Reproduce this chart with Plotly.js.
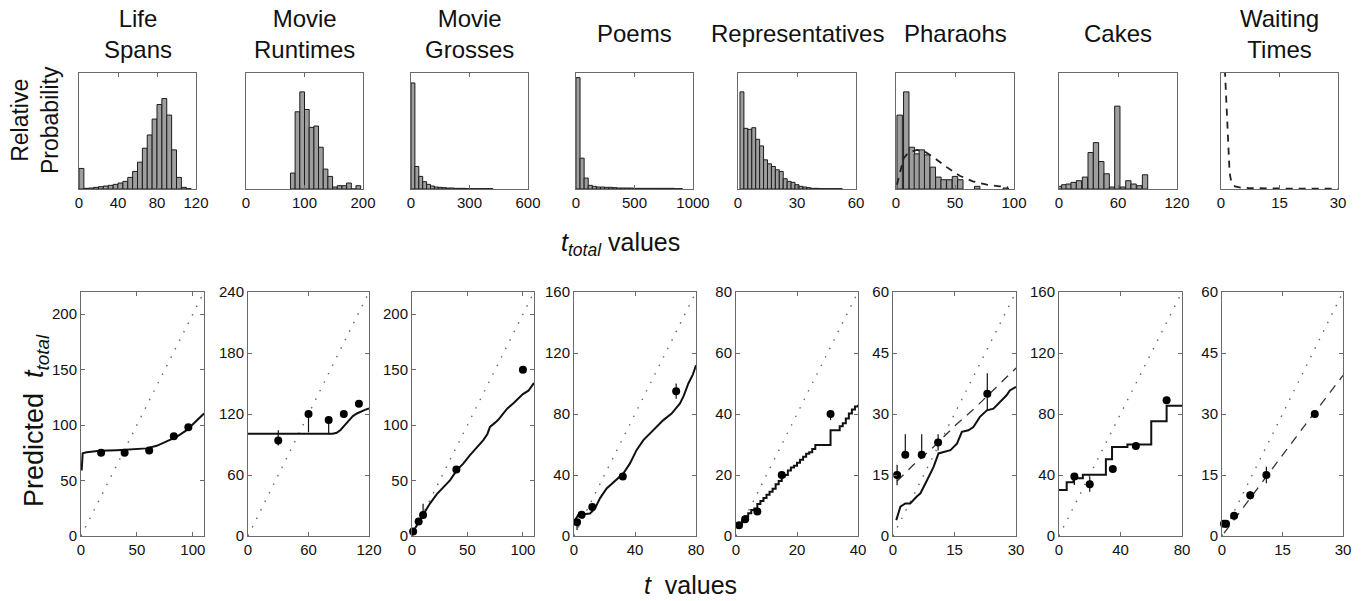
<!DOCTYPE html>
<html><head><meta charset="utf-8">
<script src="https://cdn.plot.ly/plotly-3.0.1.min.js"></script>
<style>html,body{margin:0;padding:0;background:#fff}#chart{width:1362px;height:601px}</style>
</head><body><div id="chart"></div>
<script>
// ---------- panel names ----------
const panelTitles = ["Life<br>Spans","Movie<br>Runtimes","Movie<br>Grosses","Poems","Representatives","Pharaohs","Cakes","Waiting<br>Times"];

// ---------- top row: empirical distributions (relative probability, arbitrary units) ----------
const lifeBinX   = [2.5,7.5,12.5,17.5,22.5,27.5,32.5,37.5,42.5,47.5,52.5,57.5,62.5,67.5,72.5,77.5,82.5,87.5,92.5,97.5,102.5,107.5,112.5];
const lifeBinY   = [62,2,3,5,7,9,11,14,18,23,35,53,81,123,163,211,255,273,223,118,35,5,1];
const runBinX    = [80,88,96,104,112,120,128,136,144,152,160,168,176,184,192];
const runBinY    = [48,233,293,240,186,190,126,60,38,6,10,10,18,0,10];
const grossBinX  = [10,30,50,70,90,110,130,150,170,190,210,230,250,270,290,310,330,350,370,390,410];
const grossBinY  = [320,68,38,22,14,9,6,5,4,3,3,2,2,2,1,1,1,1,1,1,1];
const poemBinX   = [17,52,87,122,157,192,227,262,297,332,367,402,437,472,507,542,577,612,647,682,717,752,787,822,857,892];
const poemBinY   = [336,93,33,11,8,6,6,5,5,4,3,3,3,3,2,2,2,2,2,2,2,2,2,2,1,1];
const repBinX    = [2,4,6,8,10,12,14,16,18,20,22,24,26,28,30,32,34,36,38,40,42,44,46,48,50,52];
const repBinY    = [293,183,180,185,150,130,88,76,68,58,53,31,23,20,13,8,6,4,2,2,1,1,1,1,1,1];
const pharBinX   = [3.1,8.7,13.5,17.7,21.9,26.4,31.2,35.9,40.4,45.2,50,54.5,68.8,93];
const pharBinY   = [223,293,126,106,118,103,66,36,28,28,38,28,8,3];
const pharPriorX = [0.8,3.7,6.5,10.7,17.7,23.3,31.7,43,54,65,77,88,95];
const pharPriorY = [13,58,93,110,118,115,96,66,40,23,13,8,5];
const cakeBinX   = [1.7,5.4,9.8,14.9,20.3,26.4,32.2,37.6,43,48.5,53.9,59.3,65,70.5,75.9,81.7,87.5];
const cakeBinY   = [8,13,15,20,25,36,110,140,83,46,6,250,6,25,15,10,43];
const waitPriorX = [1.0,1.2,1.4,1.6,1.8,2.0,2.2,2.5,3.0,3.6,5,7,10,15,20,25,30];
const waitPriorY = [360,300,250,185,130,78,50,30,15,8,4.5,3,2,1.5,1,1,1];

// ---------- bottom row: predictions ----------
const lifeT = [18,39,61,83,96];       const lifePred = [75,75,77,90,98];
const lifeErrP = [2,2,2,2,2];         const lifeErrM = [2,2,2,2,2];
const lifeModelX = [0.6,1.5,5,17,32,47,58.7,67.7,76.6,85.5,94.5,103.4,110];
const lifeModelY = [59,74.5,75.5,76.8,77.4,78,79,81.3,85,89.4,95.4,104.4,110.4];

const runT = [30,60,80,95,110];       const runPred = [94,120,114,120,130];
const runErrP = [10,2,2,2,2];         const runErrM = [5,18,14,2,2];
const runModelX = [0,84,88,92,96,100,104,108,112,116,120];
const runModelY = [100.5,100.5,101.5,104.5,109,114,118,120.5,122.5,124,125.4];

const grossT = [1,6,10,40,100];       const grossPred = [4,13,19,60,150];
const grossErrP = [1,2,10,2,2];       const grossErrM = [1,2,2,2,2];
const grossModelX = [0,4.5,10.5,16,22.4,28,34.4,40.4,46,52.3,58,64.3,68,70.3,74.7,78,82.2,86,91.2,95,100,105,110];
const grossModelY = [2.4,10,20.4,29,37.8,44,50.4,59.4,65,73,79,86.4,92,98.4,102,105,110.4,115,119.4,123,127.9,131,138];

const poemT = [2,5,12,32,67];         const poemPred = [9,14,19,39,95];
const poemErrP = [2,2,2,2,5];         const poemErrM = [5,2,2,2,5];
const poemModelX = [0,2.8,6.1,10.5,13.8,17,21.4,28,32.3,36.7,41,45.5,52,58.6,64,69.5,72,75,78,80];
const poemModelY = [9.4,13.8,14.2,14.8,18.1,24.7,31.2,37,41,47.6,56.3,62.9,69.4,76,80.3,86.9,92,100,106,112];

const repT = [1,3,7,15,31];           const repPred = [3.5,5.5,8,20,40];
const repErrP = [1,1,1,1,1];          const repErrM = [1,1,1,1,2];
const repModelX = [0,1,2,3,4,5,6,7,8,9,10,11,12,13,14,15,16,17,18,19,20,21,22,23,24,25,26,27,28,29,30,31,32,33,34,35,36,37,38,39,40];
const repModelY = [3,4,5,6.5,7.5,8.5,9,10.5,11.5,12.5,13.5,14.5,15.5,17,18,19.5,20,21.5,22.5,23,24,25,26,27,27.5,28.5,29.8,29.8,29.8,29.8,29.8,34.7,34.7,34.7,36,37,38.5,40.2,41.5,42.5,43];

const pharT = [1,3,7,11,23];          const pharPred = [15,20,20,23,35];
const pharErrP = [2.5,5,5,2,5];       const pharErrM = [2.5,0.5,0.5,2,4];
const pharModelX = [0.8,1.8,3,4.2,5.8,6.7,8.3,9.9,11.1,12.3,14,15.6,16.8,18.4,19.6,21.2,22.9,24.5,26.1,27.7,28.5,30];
const pharModelY = [3.9,7.2,8,8,9.7,10.5,13.7,17,20.3,20.7,21.1,22.7,25.6,26,26.8,29.3,30.9,31.3,33,34.6,35.8,36.7];
const pharAltX = [1,5,10,15,20,25,30];
const pharAltY = [13.5,17.5,22,27,31.5,36.5,41.3];

const cakeT = [10,20,35,50,70];       const cakePred = [39,34,44,59,89];
const cakeErrP = [1,5,1,1,1];         const cakeErrM = [5.5,5,1,1,1];
const cakeModelX = [0,5,9.5,15.5,30.5,34.5,44.5,60,70,80];
const cakeModelY = [30.1,35.2,37.8,40.2,50.4,58.3,60,75.3,85.4,85.4];

const waitT = [0.5,1,3,7,11,23];      const waitPred = [3,3,5,10,15,30];
const waitErrP = [0.5,0.5,0.5,1,2,1]; const waitErrM = [0.5,0.5,0.5,1,2,1];
const waitAltX = [0.5,5,10,15,20,25,30];
const waitAltY = [0.7,6.7,13.4,20,26.5,33,39.5];

// y = 2t reference lines
const guessX = [[0,110],[0,120],[0,110],[0,80],[0,40],[0,30],[0,80],[0,30]];
const guessY = [[0,220],[0,240],[0,220],[0,160],[0,80],[0,60],[0,160],[0,60]];

// axis ranges and ticks
const topXRange = [[0,120],[0,200],[0,600],[0,1000],[0,60],[0,100],[0,120],[0,30]];
const topXTicks = [[0,40,80,120],[0,100,200],[0,300,600],[0,500,1000],[0,30,60],[0,50,100],[0,60,120],[0,15,30]];
const botXRange = [[0,110],[0,120],[0,110],[0,80],[0,40],[0,30],[0,80],[0,30]];
const botXTicks = [[0,50,100],[0,60,120],[0,50,100],[0,40,80],[0,20,40],[0,15,30],[0,40,80],[0,15,30]];
const botYRange = [[0,220],[0,240],[0,220],[0,160],[0,80],[0,60],[0,160],[0,60]];
const botYTicks = [[0,50,100,150,200],[0,60,120,180,240],[0,50,100,150,200],[0,40,80,120,160],[0,20,40,60,80],[0,15,30,45,60],[0,40,80,120,160],[0,15,30,45,60]];

// ---------- build ----------
const W = 1362, H = 601;
const FONT = "'Liberation Sans',Arial,sans-serif";
const topBoxX = [[79,196],[246,363],[411,528],[576,693],[738,856],[896,1014],[1059,1177],[1221,1338]];
const botBoxX = [[81,204],[248,369],[412,534],[574,696],[736,858],[893,1016],[1059,1182],[1222,1343]];
const topBoxY = [73,189], botBoxY = [292,536];
const dx = p => [p[0]/W, p[1]/W];
const dy = p => [1-p[1]/H, 1-p[0]/H];

const traces = [];
const barStyle = {color:'#9e9e9e', line:{color:'#1c1c1c', width:1}};
const hist = [
  [lifeBinX, lifeBinY, 5], [runBinX, runBinY, 8], [grossBinX, grossBinY, 20], [poemBinX, poemBinY, 35],
  [repBinX, repBinY, 2], [pharBinX, pharBinY, 4.6], [cakeBinX, cakeBinY, 5.4]
];
hist.forEach((h,i)=>{
  traces.push({type:'bar', x:h[0], y:h[1], width:h[2], marker:barStyle, xaxis:'x'+(i+1), yaxis:'y'+(i+1), hoverinfo:'skip'});
});
const dashPrior = {color:'#222', width:1.8, dash:'7px,6px'};
traces.push({type:'scatter', mode:'lines', x:pharPriorX, y:pharPriorY, line:dashPrior, xaxis:'x6', yaxis:'y6'});
traces.push({type:'scatter', mode:'lines', x:waitPriorX, y:waitPriorY, line:dashPrior, xaxis:'x8', yaxis:'y8'});

const models = [
  [lifeModelX, lifeModelY, 'linear'], [runModelX, runModelY, 'linear'], [grossModelX, grossModelY, 'linear'],
  [poemModelX, poemModelY, 'linear'], [repModelX, repModelY, 'hv'], [pharModelX, pharModelY, 'linear'],
  [cakeModelX, cakeModelY, 'hv'], null
];
const pts = [
  [lifeT, lifePred, lifeErrP, lifeErrM], [runT, runPred, runErrP, runErrM], [grossT, grossPred, grossErrP, grossErrM],
  [poemT, poemPred, poemErrP, poemErrM], [repT, repPred, repErrP, repErrM], [pharT, pharPred, pharErrP, pharErrM],
  [cakeT, cakePred, cakeErrP, cakeErrM], [waitT, waitPred, waitErrP, waitErrM]
];
for (let i=0;i<8;i++){
  const xa = 'x'+(i+9), ya = 'y'+(i+9);
  traces.push({type:'scatter', mode:'lines', x:guessX[i], y:guessY[i], line:{color:'#666', width:1.4, dash:'1.5px,8px'}, xaxis:xa, yaxis:ya});
  if (models[i]) traces.push({type:'scatter', mode:'lines', x:models[i][0], y:models[i][1], line:{color:'#111', width:2, shape:models[i][2]}, xaxis:xa, yaxis:ya});
  if (i===5) traces.push({type:'scatter', mode:'lines', x:pharAltX, y:pharAltY, line:{color:'#333', width:1.3, dash:'9px,7px'}, xaxis:xa, yaxis:ya});
  if (i===7) traces.push({type:'scatter', mode:'lines', x:waitAltX, y:waitAltY, line:{color:'#333', width:1.3, dash:'9px,7px'}, xaxis:xa, yaxis:ya});
  traces.push({type:'scatter', mode:'markers', x:pts[i][0], y:pts[i][1],
    error_y:{type:'data', symmetric:false, array:pts[i][2], arrayminus:pts[i][3], color:'#111', thickness:1.2, width:0},
    marker:{color:'#000', size:8}, xaxis:xa, yaxis:ya, cliponaxis:false});
}

const layout = {width:W, height:H, margin:{l:0,r:0,t:0,b:0}, paper_bgcolor:'#fff', plot_bgcolor:'#fff',
  showlegend:false, bargap:0, font:{family:FONT, color:'#111', size:15}, annotations:[]};
const axBase = {showline:true, mirror:'ticks', linecolor:'#6a6a6a', linewidth:1, ticks:'inside', ticklen:4,
  tickcolor:'#6a6a6a', showgrid:false, zeroline:false, tickfont:{family:FONT, size:15, color:'#111'}, fixedrange:true};
for (let i=0;i<8;i++){
  layout['xaxis'+(i+1)] = Object.assign({}, axBase, {domain:dx(topBoxX[i]), range:topXRange[i], tickmode:'array', tickvals:topXTicks[i], anchor:'y'+(i+1)});
  layout['yaxis'+(i+1)] = Object.assign({}, axBase, {domain:dy(topBoxY), range:[0,350], ticks:'', showticklabels:false, anchor:'x'+(i+1)});
  layout['xaxis'+(i+9)] = Object.assign({}, axBase, {domain:dx(botBoxX[i]), range:botXRange[i], tickmode:'array', tickvals:botXTicks[i], anchor:'y'+(i+9)});
  layout['yaxis'+(i+9)] = Object.assign({}, axBase, {domain:dy(botBoxY), range:botYRange[i], tickmode:'array', tickvals:botYTicks[i], anchor:'x'+(i+9)});
  const cx = (topBoxX[i][0]+topBoxX[i][1])/2/W;
  layout.annotations.push({text:panelTitles[i], x:cx, y:1-34/H, xref:'paper', yref:'paper', xanchor:'center', yanchor:'middle', showarrow:false, font:{family:FONT, size:24, color:'#111'}});
}
layout.annotations.push({text:'Relative<br>Probability', x:35/W, y:1-120/H, xref:'paper', yref:'paper', textangle:-90, xanchor:'center', yanchor:'middle', showarrow:false, font:{family:FONT, size:23, color:'#111'}});
layout.annotations.push({text:'Predicted  <i>t</i><sub><i>total</i></sub>', x:36/W, y:1-421/H, xref:'paper', yref:'paper', textangle:-90, xanchor:'center', yanchor:'middle', showarrow:false, font:{family:FONT, size:27, color:'#111'}});
layout.annotations.push({text:'<i>t</i><sub><i>total</i></sub> values', x:620/W, y:1-244/H, xref:'paper', yref:'paper', xanchor:'center', yanchor:'middle', showarrow:false, font:{family:FONT, size:25, color:'#111'}});
layout.annotations.push({text:'<i>t</i>  values', x:690/W, y:1-585/H, xref:'paper', yref:'paper', xanchor:'center', yanchor:'middle', showarrow:false, font:{family:FONT, size:25, color:'#111'}});

Plotly.newPlot('chart', traces, layout, {displayModeBar:false, staticPlot:true});
</script></body></html>
